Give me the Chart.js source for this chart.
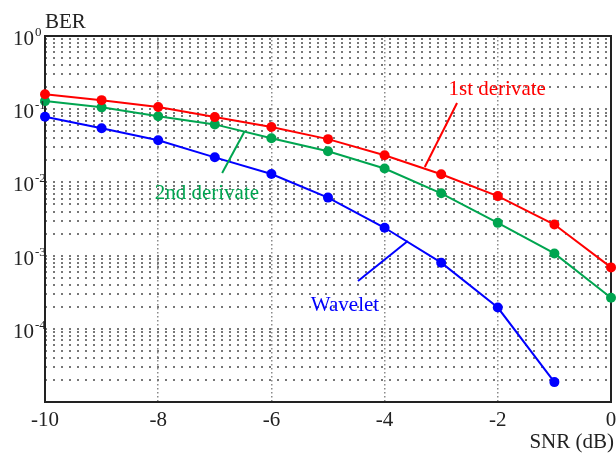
<!DOCTYPE html>
<html>
<head>
<meta charset="utf-8">
<script src="https://cdn.jsdelivr.net/npm/chart.js@4"></script>
<style>
  html, body { margin: 0; padding: 0; background: #ffffff; }
  #wrap { width: 616px; height: 453px; }
</style>
</head>
<body>
<div id="wrap"><canvas id="c" width="616" height="453"></canvas></div>
<script>
// SNR sweep (dB) and bit error rate for each detector
const snr = [-10, -9, -8, -7, -6, -5, -4, -3, -2, -1, 0];
const berFirstDerivate  = [0.160, 0.133, 0.107, 0.078, 0.057, 0.039, 0.0235, 0.0129, 0.0065, 0.00266, 0.00069];
const berSecondDerivate = [0.129, 0.106, 0.080, 0.062, 0.040, 0.0266, 0.0155, 0.0071, 0.0028, 0.00107, 0.000266];
const berWavelet        = [0.079, 0.055, 0.0376, 0.022, 0.0130, 0.0062, 0.0024, 0.00080, 0.000195, 0.0000187, null];

// axis ticks
const xTickValues = [-10, -8, -6, -4, -2, 0];
const yDecades = [-5, -4, -3, -2, -1, 0];
const yLabelDecades = [-4, -3, -2, -1, 0];

const seriesNames = ['1st derivate', '2nd derivate', 'Wavelet'];
const seriesColors = ['#ff0000', '#00a550', '#0000ff'];

// callout text and leader line for each curve (data coordinates)
const callouts = [
  { text: '1st derivate', color: seriesColors[0], at: [-2.01, 0.156], from: [-3.29, 0.0162], to: [-2.72, 0.1216] },
  { text: '2nd derivate', color: seriesColors[1], at: [-7.14, 0.00593], from: [-6.87, 0.01343], to: [-6.48, 0.0489] },
  { text: 'Wavelet',      color: seriesColors[2], at: [-4.70, 0.000175], from: [-4.47, 0.00045], to: [-3.59, 0.00158] }
];

const FONT = '"Liberation Serif", "Times New Roman", serif';
Chart.defaults.font.family = FONT;
Chart.defaults.color = '#222';

function toPoints(values) {
  return snr.map((x, i) => ({ x: x, y: values[i] }));
}

// log grid: 1..9 x 10^k inside every decade
function logGridValues() {
  const vals = [];
  for (let d = 0; d < yDecades.length - 1; d++) {
    for (let m = 1; m <= 9; m++) vals.push(m * Math.pow(10, yDecades[d]));
  }
  vals.push(Math.pow(10, yDecades[yDecades.length - 1]));
  return vals;
}

const framePlugin = {
  id: 'frame',
  beforeDatasetsDraw(chart) {
    const { ctx, chartArea: a } = chart;
    ctx.save();
    ctx.strokeStyle = '#222';
    ctx.lineWidth = 2;
    ctx.setLineDash([]);
    ctx.strokeRect(a.left, a.top, a.right - a.left, a.bottom - a.top);
    ctx.restore();
  }
};

const textPlugin = {
  id: 'texts',
  afterDraw(chart) {
    const { ctx, chartArea: a } = chart;
    const xs = chart.scales.x, ys = chart.scales.y;
    ctx.save();
    ctx.fillStyle = '#222';

    // decade labels with superscript exponents
    yLabelDecades.forEach(k => {
      const py = ys.getPixelForValue(Math.pow(10, k));
      ctx.font = '21px ' + FONT;
      ctx.textAlign = 'right';
      ctx.textBaseline = 'alphabetic';
      ctx.fillText('10', 34, py + 9);
      ctx.font = '13px ' + FONT;
      ctx.textAlign = 'left';
      ctx.fillText(k === 0 ? '0' : '-' + Math.abs(k), 35, py);
    });

    // axis titles
    ctx.font = '21px ' + FONT;
    ctx.textAlign = 'left';
    ctx.fillText('BER', a.left, 28);
    ctx.textAlign = 'right';
    ctx.fillText('SNR (dB)', 614, 448);

    // callouts
    callouts.forEach(c => {
      ctx.strokeStyle = c.color;
      ctx.lineWidth = 2;
      ctx.beginPath();
      ctx.moveTo(xs.getPixelForValue(c.from[0]), ys.getPixelForValue(c.from[1]));
      ctx.lineTo(xs.getPixelForValue(c.to[0]), ys.getPixelForValue(c.to[1]));
      ctx.stroke();
      ctx.fillStyle = c.color;
      ctx.font = '21px ' + FONT;
      ctx.textAlign = 'center';
      ctx.textBaseline = 'alphabetic';
      ctx.fillText(c.text, xs.getPixelForValue(c.at[0]), ys.getPixelForValue(c.at[1]));
    });
    ctx.restore();
  }
};

const datasets = [berFirstDerivate, berSecondDerivate, berWavelet].map((vals, i) => ({
  label: seriesNames[i],
  data: toPoints(vals),
  borderColor: seriesColors[i],
  backgroundColor: seriesColors[i],
  borderWidth: 2,
  pointRadius: 5,
  pointHoverRadius: 5,
  pointBorderWidth: 0,
  tension: 0,
  spanGaps: false,
  clip: false
}));

new Chart(document.getElementById('c'), {
  type: 'line',
  data: { datasets: datasets },
  options: {
    responsive: false,
    animation: false,
    devicePixelRatio: 1,
    layout: { padding: { top: 36, right: 5, left: 0, bottom: 0 } },
    plugins: { legend: { display: false }, tooltip: { enabled: false } },
    events: [],
    scales: {
      x: {
        type: 'linear',
        min: -10,
        max: 0,
        afterBuildTicks(scale) { scale.ticks = xTickValues.map(v => ({ value: v })); },
        ticks: {
          font: { size: 21, family: FONT },
          color: '#222',
          padding: 6,
          maxRotation: 0,
          autoSkip: false,
          callback: v => String(v)
        },
        grid: { drawTicks: false, color: '#8a8a8a', lineWidth: 1.5 },
        border: { display: false, dash: [1.5, 2.5] },
        afterFit(scale) { scale.height = 51; scale.paddingLeft = 0; scale.paddingRight = 0; }
      },
      y: {
        type: 'logarithmic',
        min: 1e-5,
        max: 1,
        afterBuildTicks(scale) { scale.ticks = logGridValues().map(v => ({ value: v })); },
        ticks: { display: false },
        grid: { drawTicks: false, color: '#777', lineWidth: 2 },
        border: { display: false, dash: [2, 6] },
        afterFit(scale) { scale.width = 45; scale.paddingTop = 0; scale.paddingBottom = 0; }
      }
    }
  },
  plugins: [framePlugin, textPlugin]
});
</script>
</body>
</html>
